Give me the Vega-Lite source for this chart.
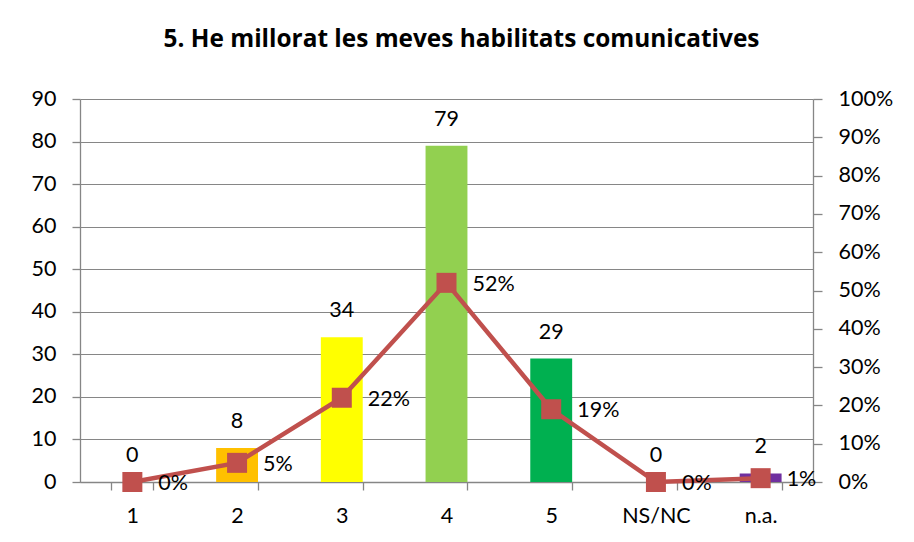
{
  "$schema": "https://vega.github.io/schema/vega-lite/v6.json",
  "width": 733,
  "height": 383,
  "autosize": {"type": "none"},
  "padding": {"left": 80, "top": 99, "right": 101, "bottom": 60},
  "background": "white",
  "title": {
    "text": "5. He millorat les meves habilitats comunicatives",
    "font": "Open Sans",
    "fontSize": 24.4,
    "fontWeight": "bold",
    "color": "#000000",
    "anchor": "middle",
    "baseline": "alphabetic",
    "offset": 17,
    "dx": 15
  },
  "config": {
    "view": {"stroke": null},
    "axis": {
      "labelFont": "Lato",
      "labelFontSize": 21.5,
      "labelColor": "#000000",
      "domainColor": "#868686",
      "tickColor": "#868686",
      "gridColor": "#868686",
      "domainWidth": 1.3,
      "tickWidth": 1.3,
      "gridWidth": 1.2,
      "title": null
    },
    "text": {"font": "Lato", "fontSize": 21.5, "color": "#000000"}
  },
  "data": {
    "values": [
      {"cat": "1", "count": 0, "pct": 0.0, "pctLabel": "0%", "color": "#4F81BD"},
      {"cat": "2", "count": 8, "pct": 0.05, "pctLabel": "5%", "color": "#FFC000"},
      {"cat": "3", "count": 34, "pct": 0.22, "pctLabel": "22%", "color": "#FFFF00"},
      {"cat": "4", "count": 79, "pct": 0.52, "pctLabel": "52%", "color": "#92D050"},
      {"cat": "5", "count": 29, "pct": 0.19, "pctLabel": "19%", "color": "#00B050"},
      {"cat": "NS/NC", "count": 0, "pct": 0.0, "pctLabel": "0%", "color": "#4BACC6"},
      {"cat": "n.a.", "count": 2, "pct": 0.01, "pctLabel": "1%", "color": "#7030A0"}
    ]
  },
  "encoding": {
    "x": {
      "field": "cat",
      "type": "nominal",
      "sort": null,
      "scale": {"paddingInner": 0.6, "paddingOuter": 0.3},
      "axis": {
        "labelAngle": 0,
        "tickBand": "extent",
        "tickSize": 8,
        "labelPadding": 15,
        "grid": false
      }
    }
  },
  "layer": [
    {
      "encoding": {
        "y": {
          "field": "count",
          "type": "quantitative",
          "scale": {"domain": [0, 90], "nice": false},
          "axis": {
            "orient": "left",
            "values": [0, 10, 20, 30, 40, 50, 60, 70, 80, 90],
            "tickSize": 8,
            "labelPadding": 16,
            "grid": true
          }
        }
      },
      "layer": [
        {
          "mark": {"type": "bar"},
          "encoding": {"color": {"field": "color", "type": "nominal", "scale": null}}
        },
        {
          "mark": {"type": "text", "baseline": "alphabetic", "dy": -20},
          "encoding": {"text": {"field": "count", "type": "quantitative"}}
        }
      ]
    },
    {
      "encoding": {
        "y": {
          "field": "pct",
          "type": "quantitative",
          "scale": {"domain": [0, 1], "nice": false},
          "axis": {
            "orient": "right",
            "format": ".0%",
            "values": [0, 0.1, 0.2, 0.3, 0.4, 0.5, 0.6, 0.7, 0.8, 0.9, 1],
            "tickSize": 9,
            "labelPadding": 16,
            "grid": false
          }
        }
      },
      "layer": [
        {
          "mark": {"type": "line", "color": "#C0504D", "strokeWidth": 4.5}
        },
        {
          "mark": {"type": "point", "shape": "square", "filled": true, "size": 400, "color": "#C0504D", "opacity": 1}
        },
        {
          "mark": {"type": "text", "align": "left", "baseline": "middle", "dx": 26, "dy": 2},
          "encoding": {"text": {"field": "pctLabel", "type": "nominal"}}
        }
      ]
    }
  ],
  "resolve": {"scale": {"y": "independent"}}
}
